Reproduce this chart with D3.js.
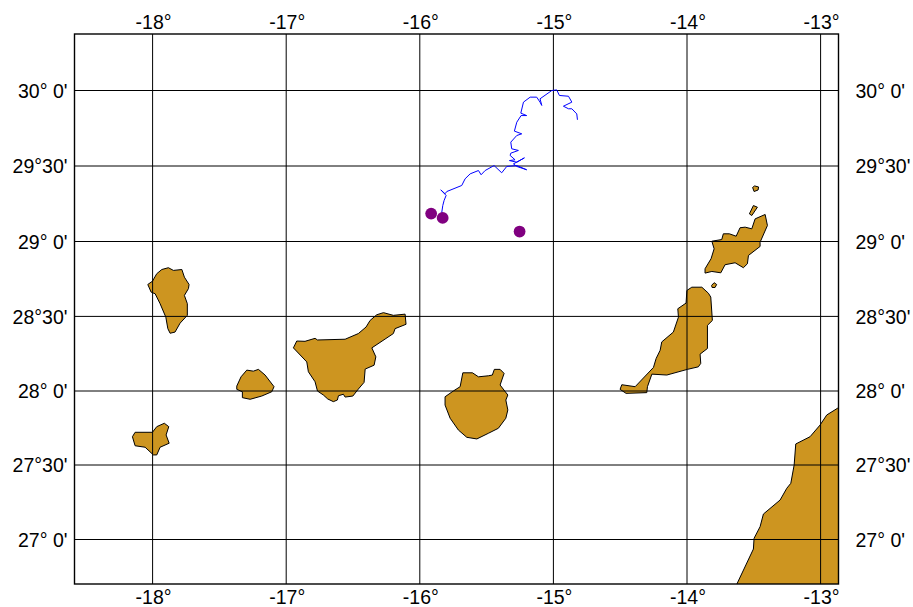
<!DOCTYPE html>
<html>
<head>
<meta charset="utf-8">
<script src="https://cdnjs.cloudflare.com/ajax/libs/d3/7.8.5/d3.min.js"></script>
<style>
html,body{margin:0;padding:0;background:#fff}
svg{display:block}
text{font-family:"Liberation Sans",Arial,sans-serif;font-size:19.5px;fill:#000}
</style>
</head>
<body>
<svg id="map" width="913" height="607"></svg>
<script>
const lonTicks = [-18,-17,-16,-15,-14,-13];
const latTicks = [27,27.5,28,28.5,29,29.5,30];
const lonTickLabels = ["-18°","-17°","-16°","-15°","-14°","-13°"];
const latTickLabels = ["27° 0'","27°30'","28° 0'","28°30'","29° 0'","29°30'","30° 0'"];

const tenerife = [[-16.946,28.289],[-16.921,28.335],[-16.859,28.333],[-16.784,28.353],[-16.766,28.342],[-16.559,28.347],[-16.46,28.385],[-16.402,28.429],[-16.372,28.473],[-16.322,28.511],[-16.272,28.525],[-16.198,28.507],[-16.11,28.515],[-16.103,28.447],[-16.185,28.418],[-16.198,28.385],[-16.359,28.289],[-16.329,28.229],[-16.342,28.173],[-16.409,28.147],[-16.417,28.058],[-16.46,28.013],[-16.501,27.966],[-16.559,27.959],[-16.572,27.978],[-16.609,27.968],[-16.617,27.939],[-16.647,27.928],[-16.689,27.946],[-16.722,27.973],[-16.766,28],[-16.784,28.062],[-16.834,28.129],[-16.846,28.195]];
const granCanaria = [[-15.678,28.122],[-15.606,28.122],[-15.561,28.095],[-15.487,28.102],[-15.457,28.107],[-15.442,28.145],[-15.399,28.145],[-15.369,28.118],[-15.399,28.04],[-15.341,27.973],[-15.356,27.939],[-15.341,27.872],[-15.356,27.816],[-15.412,27.748],[-15.487,27.714],[-15.573,27.676],[-15.648,27.687],[-15.711,27.736],[-15.773,27.816],[-15.811,27.905],[-15.811,27.961],[-15.749,28],[-15.698,28.029]];
const laPalma = [[-18.036,28.713],[-18.001,28.735],[-17.969,28.785],[-17.931,28.813],[-17.882,28.825],[-17.844,28.807],[-17.781,28.813],[-17.762,28.762],[-17.727,28.713],[-17.732,28.685],[-17.762,28.64],[-17.74,28.585],[-17.74,28.507],[-17.794,28.455],[-17.832,28.395],[-17.869,28.387],[-17.886,28.418],[-17.901,28.495],[-17.944,28.585],[-17.981,28.651],[-18.011,28.662]];
const laGomera = [[-17.37,28.033],[-17.338,28.095],[-17.295,28.14],[-17.246,28.133],[-17.208,28.145],[-17.158,28.107],[-17.091,28.029],[-17.108,27.995],[-17.183,27.966],[-17.27,27.944],[-17.328,27.955],[-17.328,27.995],[-17.37,28.011]];
const elHierro = [[-18.151,27.691],[-18.131,27.721],[-18.001,27.721],[-17.969,27.759],[-17.912,27.782],[-17.879,27.759],[-17.899,27.703],[-17.876,27.647],[-17.944,27.62],[-17.969,27.568],[-17.994,27.568],[-18.056,27.62],[-18.131,27.63]];
const fuerteventura = [[-14.001,28.673],[-13.964,28.695],[-13.889,28.695],[-13.84,28.655],[-13.822,28.629],[-13.81,28.473],[-13.847,28.44],[-13.847,28.285],[-13.902,28.247],[-13.897,28.185],[-13.915,28.162],[-13.997,28.145],[-14.151,28.107],[-14.263,28.113],[-14.296,28.029],[-14.301,27.989],[-14.456,27.984],[-14.501,28.011],[-14.488,28.042],[-14.388,28.029],[-14.251,28.158],[-14.231,28.218],[-14.201,28.273],[-14.189,28.329],[-14.102,28.395],[-14.064,28.495],[-14.069,28.551],[-14.007,28.589]];
const lobos = [[-13.816,28.707],[-13.797,28.725],[-13.778,28.713],[-13.79,28.693],[-13.812,28.693]];
const lanzarote = [[-13.814,29.002],[-13.74,29.013],[-13.728,29.051],[-13.683,29.051],[-13.632,29.035],[-13.603,29.091],[-13.565,29.095],[-13.515,29.084],[-13.49,29.15],[-13.415,29.179],[-13.398,29.106],[-13.453,28.995],[-13.453,28.967],[-13.54,28.907],[-13.548,28.851],[-13.578,28.825],[-13.64,28.858],[-13.715,28.845],[-13.747,28.791],[-13.814,28.8],[-13.865,28.789],[-13.865,28.818],[-13.82,28.885],[-13.797,28.951]];
const graciosa = [[-13.533,29.183],[-13.503,29.238],[-13.473,29.227],[-13.515,29.172]];
const montanaClara = [[-13.509,29.358],[-13.494,29.368],[-13.464,29.361],[-13.468,29.341],[-13.498,29.331]];
const africa = [[-12.8,27.92],[-12.874,27.883],[-12.954,27.838],[-13.004,27.77],[-13.079,27.691],[-13.186,27.642],[-13.198,27.5],[-13.223,27.377],[-13.253,27.344],[-13.303,27.265],[-13.428,27.171],[-13.453,27.086],[-13.498,27.008],[-13.503,26.936],[-13.623,26.708],[-13.65,26.65],[-12.8,26.65]];
const land = [tenerife, granCanaria, laPalma, laGomera, elHierro, fuerteventura, lobos, lanzarote, graciosa, montanaClara, africa];

const trackLon = [-15.836,-15.828,-15.818,-15.803,-15.843,-15.811,-15.798,-15.686,-15.661,-15.623,-15.561,-15.541,-15.511,-15.444,-15.387,-15.349,-15.274,-15.2,-15.274,-15.299,-15.217,-15.274,-15.329,-15.287,-15.324,-15.319,-15.262,-15.312,-15.319,-15.274,-15.237,-15.292,-15.274,-15.242,-15.2,-15.244,-15.224,-15.174,-15.125,-15.1,-15.087,-15.1,-15.012,-14.975,-14.955,-14.887,-14.862,-14.925,-14.887,-14.862,-14.825,-14.82];
const trackLat = [29.19,29.238,29.272,29.305,29.342,29.316,29.331,29.371,29.415,29.448,29.47,29.442,29.47,29.503,29.455,29.497,29.503,29.475,29.497,29.514,29.554,29.525,29.536,29.541,29.57,29.585,29.603,29.614,29.658,29.702,29.713,29.731,29.79,29.834,29.834,29.85,29.923,29.956,29.956,29.923,29.901,29.945,30,30.004,29.967,29.962,29.923,29.896,29.879,29.879,29.845,29.806];
const stationLon = [-15.915,-15.829,-15.253];
const stationLat = [29.185,29.156,29.066];

const frame = {left:74.5, right:838.5, top:34, bottom:584};
const x = d3.scaleLinear().domain([-18,-13]).range([152.6,820.6]);
const y = d3.scaleLinear().domain(latTicks).range([539.5,465,391,316.4,241.5,166,90.5]);

const svg = d3.select("#map");
svg.append("defs").append("clipPath").attr("id","frameClip").append("rect")
  .attr("x",frame.left).attr("y",frame.top)
  .attr("width",frame.right-frame.left).attr("height",frame.bottom-frame.top);

const lineGen = d3.line().x(d=>x(d[0])).y(d=>y(d[1]));
const plot = svg.append("g").attr("clip-path","url(#frameClip)");

plot.append("g").selectAll("path").data(land).join("path")
  .attr("d",d=>lineGen(d)+"Z")
  .attr("fill","#cd9520").attr("stroke","#000").attr("stroke-width",1).attr("stroke-linejoin","round");

// graticule
plot.append("g").attr("transform",`translate(0,${frame.bottom})`)
  .call(d3.axisBottom(x).offset(0).tickValues(lonTicks).tickSize(frame.top-frame.bottom).tickFormat(""))
  .call(g=>g.select(".domain").remove())
  .selectAll("line").attr("stroke","#000").attr("stroke-width",1);
plot.append("g").attr("transform",`translate(${frame.left},0)`)
  .call(d3.axisRight(y).offset(0).tickValues(latTicks).tickSize(frame.right-frame.left).tickFormat(""))
  .call(g=>g.select(".domain").remove())
  .selectAll("line").attr("stroke","#000").attr("stroke-width",1);

plot.append("path")
  .attr("d",d3.line().x((d,i)=>x(trackLon[i])).y((d,i)=>y(trackLat[i]))(trackLon))
  .attr("fill","none").attr("stroke","#0000ff").attr("stroke-width",1);

plot.append("g").selectAll("circle").data(stationLon).join("circle")
  .attr("cx",d=>x(d)).attr("cy",(d,i)=>y(stationLat[i])).attr("r",5.9).attr("fill","#800080");

svg.append("rect").attr("x",frame.left).attr("y",frame.top)
  .attr("width",frame.right-frame.left).attr("height",frame.bottom-frame.top)
  .attr("fill","none").attr("stroke","#000").attr("stroke-width",1.4);

const lonFmt = (d,i)=>lonTickLabels[i];
const latFmt = (d,i)=>latTickLabels[i];
const strip = g=>{g.select(".domain").remove();g.selectAll("line").remove();g.selectAll("text").attr("font-family",null).attr("font-size",null);};
svg.append("g").attr("transform",`translate(1,${frame.top-5})`)
  .call(d3.axisTop(x).offset(0).tickValues(lonTicks).tickSize(0).tickPadding(0).tickFormat(lonFmt)).call(strip);
svg.append("g").attr("transform",`translate(1,${frame.bottom+6})`)
  .call(d3.axisBottom(x).offset(0).tickValues(lonTicks).tickSize(0).tickPadding(0).tickFormat(lonFmt)).call(strip);
svg.append("g").attr("transform",`translate(${frame.left-7},1)`)
  .call(d3.axisLeft(y).offset(0).tickValues(latTicks).tickSize(0).tickPadding(0).tickFormat(latFmt)).call(strip);
svg.append("g").attr("transform",`translate(${frame.right+17},1)`)
  .call(d3.axisRight(y).offset(0).tickValues(latTicks).tickSize(0).tickPadding(0).tickFormat(latFmt)).call(strip);
</script>
</body>
</html>
